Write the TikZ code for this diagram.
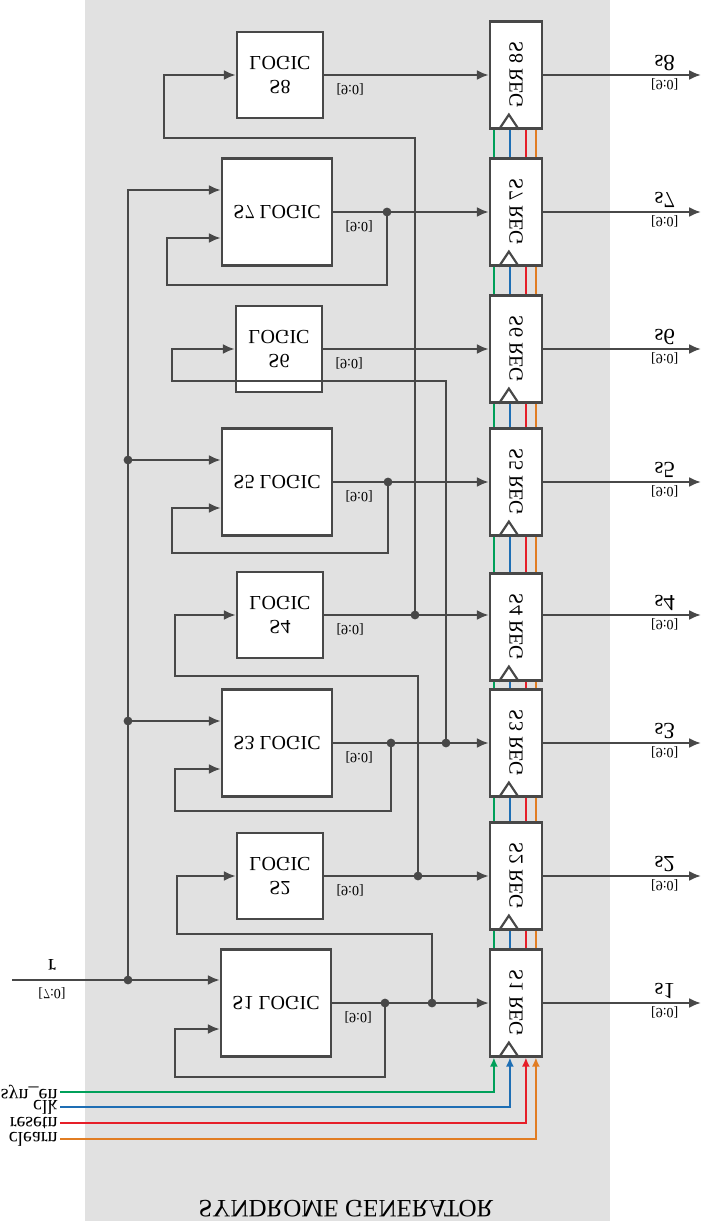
\documentclass[tikz,border=0pt]{standalone}
\usepackage{fontspec}
\setmainfont{Liberation Serif}
\usetikzlibrary{calc, arrows.meta}

\definecolor{wirecol}{RGB}{72,72,72}
\definecolor{bgcol}{RGB}{225,225,225}
\definecolor{synencol}{RGB}{0,160,90}
\definecolor{clkcol}{RGB}{30,110,180}
\definecolor{resetcol}{RGB}{230,30,40}
\definecolor{clearcol}{RGB}{225,125,35}

\tikzset{
  wire/.style={draw=wirecol, line width=1.3pt},
  ctrl/.style={line width=0.8pt},
  ctrltip/.style={-{Latex[length=4.5pt,width=4pt]}},
  biglogic/.style={draw=wirecol, fill=white, line width=1.1pt, minimum width=55pt, minimum height=53.5pt, inner sep=0pt, align=center, font=\fontsize{10}{12}\selectfont},
  smalllogic/.style={biglogic, minimum width=43pt, minimum height=43pt},
  regbox/.style={draw=wirecol, fill=white, line width=1.1pt, minimum width=26pt, minimum height=53.5pt, inner sep=0pt},
  reglabel/.style={rotate=90, inner sep=0pt, font=\fontsize{10}{12}\selectfont},
  port/.style={inner sep=1pt, font=\fontsize{10}{12}\selectfont},
  outname/.style={inner sep=1.5pt, font=\fontsize{11.5}{13}\selectfont},
  bus/.style={inner sep=1pt, font=\fontsize{7}{8}\selectfont}
}

\begin{document}
\begin{tikzpicture}[x=0.5pt, y=0.5pt, yscale=-1, >={Latex[length=6pt,width=5pt]}, every node/.append style={transform shape}]
        \useasboundingbox (0,0) rectangle (703,1221);
        \fill[bgcol] (85,0) rectangle (610,1221);

        % logic blocks
        \node[biglogic] (logic1) at (276,1003) {S1 LOGIC};
        \node[smalllogic] (logic2) at (280,876) {S2\\LOGIC};
        \node[biglogic] (logic3) at (277,743) {S3 LOGIC};
        \node[smalllogic] (logic4) at (280,615) {S4\\LOGIC};
        \node[biglogic] (logic5) at (277,482) {S5 LOGIC};
        \node[smalllogic] (logic6) at (279,349) {S6\\LOGIC};
        \node[biglogic] (logic7) at (277,212) {S7 LOGIC};
        \node[smalllogic] (logic8) at (280,75) {S8\\LOGIC};

        % registers
        \node[regbox, label={[reglabel]center:S1 REG}] (reg1) at (516,1003) {};
        \node[regbox, label={[reglabel]center:S2 REG}] (reg2) at (516,876) {};
        \node[regbox, label={[reglabel]center:S3 REG}] (reg3) at (516,743) {};
        \node[regbox, label={[reglabel]center:S4 REG}] (reg4) at (516,627) {};
        \node[regbox, label={[reglabel]center:S5 REG}] (reg5) at (516,482) {};
        \node[regbox, label={[reglabel]center:S6 REG}] (reg6) at (516,349) {};
        \node[regbox, label={[reglabel]center:S7 REG}] (reg7) at (516,212) {};
        \node[regbox, label={[reglabel]center:S8 REG}] (reg8) at (516,75) {};

        \foreach \k in {1,...,8}
          \draw[wire, line width=1.1pt] ($(reg\k.north west)+(10,0)$) -- ($(reg\k.north west)+(20,-15)$) -- ($(reg\k.north west)+(30,0)$);

        % input bus r
        \coordinate (rin) at (12,980);
        \coordinate (b1) at (128,980);
        \coordinate (b3) at (128,721);
        \coordinate (b5) at (128,460);
        \node[outname] (rname) at (52,965) {r};
        \node[bus] (rwidth) at (52,993) {[7:0]};
        \draw[wire,->] (rin) -- (rin -| logic1.west);
        \draw[wire,->] (b1) |- ($(logic7.west)+(0,-22)$);
        \draw[wire,->] (b3) -- (b3 -| logic3.west);
        \draw[wire,->] (b5) -- (b5 -| logic5.west);

        % taps and feedback
        \coordinate (f1) at (385,1003);
        \coordinate (t1) at (432,1003);
        \coordinate (t2) at (418,876);
        \coordinate (f3) at (391,743);
        \coordinate (t3) at (446,743);
        \coordinate (t4) at (415,615);
        \coordinate (f5) at (388,482);
        \coordinate (f7) at (387,212);

        \draw[wire,->] (logic1.east) -- (reg1.west);
        \draw[wire,->] (logic2.east) -- (reg2.west);
        \draw[wire,->] (logic3.east) -- (reg3.west);
        \draw[wire,->] (logic4.east) -- (logic4.east -| reg4.west);
        \draw[wire,->] (logic5.east) -- (reg5.west);
        \draw[wire,->] (logic6.east) -- (reg6.west);
        \draw[wire,->] (logic7.east) -- (reg7.west);
        \draw[wire,->] (logic8.east) -- (reg8.west);

        \draw[wire,->] (f1) |- (175,1077) |- ($(logic1.west)+(0,26)$);
        \draw[wire,->] (t1) |- (177,934) |- (logic2.west);
        \draw[wire,->] (f3) |- (175,811) |- ($(logic3.west)+(0,26)$);
        \draw[wire,->] (t2) |- (175,676) |- (logic4.west);
        \draw[wire,->] (f5) |- (172,553) |- ($(logic5.west)+(0,26)$);
        \draw[wire,->] (t3) |- (172,381) |- (logic6.west);
        \draw[wire,->] (f7) |- (167,285) |- ($(logic7.west)+(0,26)$);
        \draw[wire,->] (t4) |- (164,138) |- (logic8.west);

        \foreach \j in {b1,b3,b5,f1,t1,t2,f3,t3,t4,f5,f7}
          \fill[wirecol] (\j) circle (2.2pt);

        \foreach \k in {1,...,8}
          \node[bus, anchor=west] (w\k) at ($(logic\k.east)+(10,14)$) {[9:0]};

        % outputs
        \draw[wire,->] (reg1.east) -- ++(158,0) node[outname, pos=0.77, below] {s1} node[bus, pos=0.77, above] {[9:0]};
        \draw[wire,->] (reg2.east |- logic2.east) -- ++(158,0) node[outname, pos=0.77, below] {s2} node[bus, pos=0.77, above] {[9:0]};
        \draw[wire,->] (reg3.east) -- ++(158,0) node[outname, pos=0.77, below] {s3} node[bus, pos=0.77, above] {[9:0]};
        \draw[wire,->] (reg4.east |- logic4.east) -- ++(158,0) node[outname, pos=0.77, below] {s4} node[bus, pos=0.77, above] {[9:0]};
        \draw[wire,->] (reg5.east) -- ++(158,0) node[outname, pos=0.77, below] {s5} node[bus, pos=0.77, above] {[9:0]};
        \draw[wire,->] (reg6.east) -- ++(158,0) node[outname, pos=0.77, below] {s6} node[bus, pos=0.77, above] {[9:0]};
        \draw[wire,->] (reg7.east) -- ++(158,0) node[outname, pos=0.77, below] {s7} node[bus, pos=0.77, above] {[9:0]};
        \draw[wire,->] (reg8.east) -- ++(158,0) node[outname, pos=0.77, below] {s8} node[bus, pos=0.77, above] {[9:0]};

        % control signals
        \node[port, anchor=east] (synen) at (60,1092) {syn\_en};
        \node[port, anchor=east] (clk) at (60,1107) {clk};
        \node[port, anchor=east] (resetn) at (60,1123) {resetn};
        \node[port, anchor=east] (clearn) at (60,1139) {clearn};

        \draw[ctrl, ctrltip, synencol] (synen.east) -| ($(reg1.north west)+(5,0)$);
        \draw[ctrl, ctrltip, clkcol] (clk.east) -| ($(reg1.north west)+(21,0)$);
        \draw[ctrl, ctrltip, resetcol] (resetn.east) -| ($(reg1.north west)+(37,0)$);
        \draw[ctrl, ctrltip, clearcol] (clearn.east) -| ($(reg1.north west)+(47,0)$);

        \foreach \a/\b in {1/2,2/3,3/4,4/5,5/6,6/7,7/8} {
          \draw[ctrl, synencol] ($(reg\a.south west)+(5,0)$) -- ($(reg\b.north west)+(5,0)$);
          \draw[ctrl, clkcol] ($(reg\a.south west)+(21,0)$) -- ($(reg\b.north west)+(21,0)$);
          \draw[ctrl, resetcol] ($(reg\a.south west)+(37,0)$) -- ($(reg\b.north west)+(37,0)$);
          \draw[ctrl, clearcol] ($(reg\a.south west)+(47,0)$) -- ($(reg\b.north west)+(47,0)$);
        }

        \node[font=\fontsize{12.5}{14}\selectfont] (title) at (346,1209) {SYNDROME GENERATOR};
    \end{tikzpicture}
\end{document}
